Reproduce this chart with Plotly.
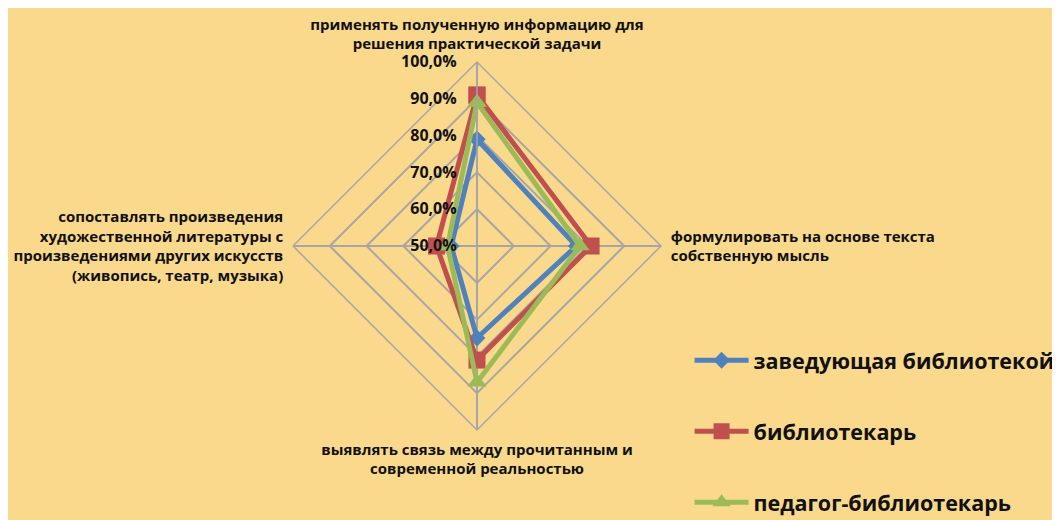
import plotly.graph_objects as go

categories = [
    "применять полученную информацию для<br>решения практической задачи",
    "формулировать на основе текста<br>собственную мысль",
    "выявлять связь между прочитанным и<br>современной реальностью",
    "сопоставлять произведения<br>художественной литературы с<br>произведениями других искусств<br>(живопись, театр, музыка)",
]
series_names = ["заведующая библиотекой", "библиотекарь", "педагог-библиотекарь"]
zav = [79, 77, 75, 57]
bib = [91, 81, 81, 61]
ped = [89, 78, 87, 58]
tick_vals = [50, 60, 70, 80, 90, 100]
tick_text = ["50,0%", "60,0%", "70,0%", "80,0%", "90,0%", "100,0%"]

colors = ["#4F81BD", "#C0504D", "#9BBB59"]
symbols = ["diamond", "square", "triangle-up"]
sizes = [13, 17, 17]

fig = go.Figure()
for i, (name, vals) in enumerate(zip(series_names, [zav, bib, ped])):
    fig.add_trace(go.Scatterpolar(
        r=vals + vals[:1],
        theta=categories + categories[:1],
        mode="lines+markers",
        name=name,
        legendgroup=f"g{i}",
        line=dict(color=colors[i], width=5),
        marker=dict(symbol=symbols[i], size=sizes[i], color=colors[i]),
    ))

# page body has an 8px margin, so positions are given in figure coordinates
cx, cy, R = 469, 238, 184
W, H = 1060, 520
BG = "#FAD88C"
GRID = "#A6A6A6"
fig.update_layout(
    width=W, height=H,
    paper_bgcolor=BG,
    plot_bgcolor=BG,
    margin=dict(l=0, r=0, t=0, b=0),
    font=dict(family="Open Sans", size=15, color="#111111"),
    polar=dict(
        bgcolor=BG,
        domain=dict(x=[(cx - R) / W, (cx + R) / W], y=[(H - cy - R) / H, (H - cy + R) / H]),
        gridshape="linear",
        angularaxis=dict(
            direction="clockwise", rotation=90,
            showline=True, linecolor=GRID, linewidth=1.5,
            gridcolor=GRID, gridwidth=1.5,
            tickfont=dict(family="Open Sans", size=15, color="#111111", weight="bold"),
            ticks="outside", ticklen=6, tickcolor="rgba(0,0,0,0)",
        ),
        radialaxis=dict(
            range=[50, 100], tickvals=tick_vals, ticktext=tick_text,
            angle=90, side="counterclockwise", tickangle=90,
            showline=True, linecolor=GRID, linewidth=1.5,
            gridcolor=GRID, gridwidth=1.5,
            tickfont=dict(family="Open Sans", size=16, color="#111111", weight="bold"),
            ticks="outside", ticklen=14, tickcolor="rgba(0,0,0,0)",
        ),
    ),
    legend=dict(
        x=0.643, y=0.362, xanchor="left", yanchor="top",
        font=dict(family="Open Sans", size=21.5, color="#111111", weight="bold"),
        tracegroupgap=40, itemwidth=54, bgcolor="rgba(0,0,0,0)",
    ),
)
fig.write_html("out.html")
